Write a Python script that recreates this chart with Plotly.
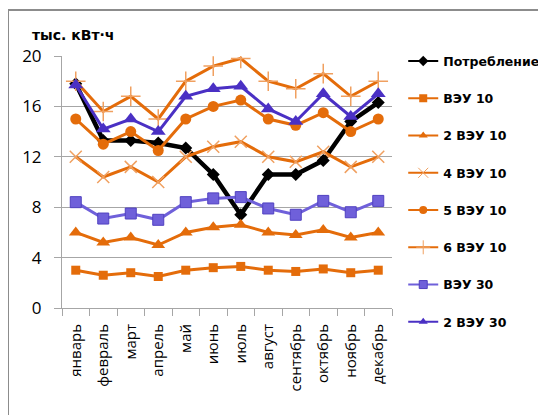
import plotly.graph_objects as go

months = ["январь", "февраль", "март", "апрель", "май", "июнь", "июль",
          "август", "сентябрь", "октябрь", "ноябрь", "декабрь"]

consumption = [17.8, 13.3, 13.3, 13.1, 12.7, 10.6, 7.4, 10.6, 10.6, 11.7, 14.8, 16.3]
veu10 = [3.0, 2.6, 2.8, 2.5, 3.0, 3.2, 3.3, 3.0, 2.9, 3.1, 2.8, 3.0]
veu10_x2 = [6.0, 5.2, 5.6, 5.0, 6.0, 6.4, 6.6, 6.0, 5.8, 6.2, 5.6, 6.0]
veu10_x4 = [12.0, 10.4, 11.2, 10.0, 12.0, 12.8, 13.2, 12.0, 11.6, 12.4, 11.2, 12.0]
veu10_x5 = [15.0, 13.0, 14.0, 12.5, 15.0, 16.0, 16.5, 15.0, 14.5, 15.5, 14.0, 15.0]
veu10_x6 = [18.0, 15.6, 16.8, 15.0, 18.0, 19.2, 19.8, 18.0, 17.4, 18.6, 16.8, 18.0]
veu30 = [8.4, 7.1, 7.5, 7.0, 8.4, 8.7, 8.8, 7.9, 7.4, 8.5, 7.6, 8.5]
veu30_x2 = [17.7, 14.2, 15.0, 14.0, 16.8, 17.4, 17.6, 15.8, 14.8, 17.0, 15.2, 17.0]

ORANGE = "#E46C0A"
LIGHT_ORANGE = "#F0A060"
PURPLE = "#6F60DA"
DARK_PURPLE = "#4A30C4"
GRID = "#A6A6A6"

# name, values, colour, line width, marker symbol, marker size, marker outline
series = [
    ("Потребление", consumption, "black", 4.5, "diamond", 10, None),
    ("ВЭУ 10", veu10, ORANGE, 3, "square", 9, None),
    ("2 ВЭУ 10", veu10_x2, ORANGE, 3, "triangle-up", 12, None),
    ("4 ВЭУ 10", veu10_x4, ORANGE, 3, "x-thin", 12, LIGHT_ORANGE),
    ("5 ВЭУ 10", veu10_x5, ORANGE, 3, "circle", 11, None),
    ("6 ВЭУ 10", veu10_x6, ORANGE, 3, "cross-thin", 14, LIGHT_ORANGE),
    ("ВЭУ 30", veu30, PURPLE, 3, "square", 11, "#5040C0"),
    ("2 ВЭУ 30", veu30_x2, DARK_PURPLE, 3, "triangle-up", 13, None),
]

fig = go.Figure()
for i, (name, vals, color, width, symbol, size, outline) in enumerate(series):
    mline = dict(width=1.5 if "thin" in symbol else 1, color=outline) if outline else dict(width=0)
    fig.add_trace(go.Scatter(
        x=months, y=vals, name=name, mode="lines+markers", showlegend=False,
        line=dict(color=color, width=width),
        marker=dict(color=color, symbol=symbol, size=size, line=mline),
    ))
    # smaller legend swatch, as in the original
    fig.add_trace(go.Scatter(
        x=[months[0]], y=[None], name=name, mode="lines+markers",
        legendgroup=str(i),
        line=dict(color=color, width=2),
        marker=dict(color=color, symbol=symbol, size=8 if "thin" not in symbol else 10,
                    line=dict(width=1, color=outline) if outline else dict(width=0)),
    ))

# the page body adds 8px, so the figure is 8px smaller and offset by -8px
fig.update_layout(
    width=538, height=407,
    paper_bgcolor="white", plot_bgcolor="white",
    margin=dict(l=54, r=154, t=48, b=107, autoexpand=False),
    font=dict(family="Open Sans, sans-serif", color="black"),
    showlegend=True,
    legend=dict(
        x=1.034, xanchor="left", y=1.038, yanchor="top",
        font=dict(family="DejaVu Sans", size=12.5, color="black", weight="bold"),
        tracegroupgap=18, bgcolor="rgba(0,0,0,0)",
        maxheight=400,
    ),
    annotations=[dict(
        text="<b>тыс. кВт·ч</b>", xref="paper", yref="paper",
        x=-0.097, y=1.045, xanchor="left", yanchor="bottom", showarrow=False,
        font=dict(family="DejaVu Sans", size=14, color="black"),
    )],
    shapes=[dict(
        type="rect", xref="paper", yref="paper",
        x0=(0 - 54) / 330, x1=(570 - 54) / 330,
        y0=(300 - 430) / 252, y1=(300 - 2) / 252,
        line=dict(color="#8C8C8C", width=2),
    )],
)

fig.update_yaxes(
    range=[0, 20], dtick=4, showgrid=True, gridcolor=GRID, gridwidth=1,
    showline=True, linecolor=GRID, linewidth=1,
    ticks="outside", ticklen=7, tickcolor=GRID,
    ticklabelstandoff=9, tickfont=dict(size=17, family="Open Sans"),
    zeroline=False, automargin=False,
)
fig.update_xaxes(
    range=[-0.5, len(months) - 0.5],
    showgrid=False, showline=True, linecolor=GRID, linewidth=1,
    ticks="outside", ticklen=7, tickcolor=GRID, tickson="boundaries",
    tickangle=-90, tickfont=dict(size=15, family="Open Sans"),
    ticklabelstandoff=9, automargin=False,
)

fig.write_html("out.html")
